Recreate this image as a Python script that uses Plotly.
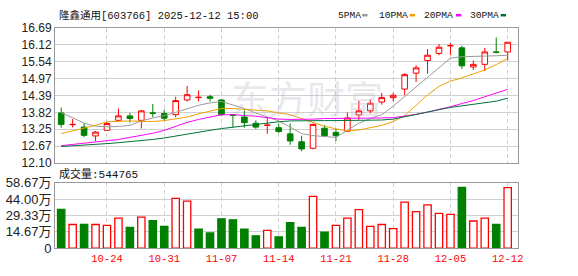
import plotly.graph_objects as go

dates = ['10-20','10-21','10-22','10-23','10-24','10-27','10-28','10-29','10-30','10-31',
         '11-03','11-04','11-05','11-06','11-07','11-10','11-11','11-12','11-13','11-14',
         '11-17','11-18','11-19','11-20','11-21','11-24','11-25','11-26','11-27','11-28',
         '12-01','12-02','12-03','12-04','12-05','12-08','12-09','12-10','12-11','12-12']

open_ = [13.80,13.40,13.32,13.02,13.21,13.55,13.70,13.55,13.80,13.78,
         13.74,14.24,14.32,14.35,14.24,13.74,13.66,13.45,13.38,13.30,
         13.09,12.82,12.60,13.28,13.14,13.18,13.73,13.87,14.17,14.32,
         14.61,15.15,15.58,15.82,16.08,16.01,15.36,15.45,15.87,15.87]
high = [13.98,13.60,13.46,13.19,13.49,13.95,13.80,13.90,14.10,13.91,
        14.35,14.72,14.56,14.42,14.26,13.745,13.89,13.55,13.63,13.44,
        13.44,13.03,13.44,13.38,13.26,13.81,14.21,14.26,14.48,14.48,
        15.15,15.42,15.97,16.14,16.17,16.08,15.58,16.01,16.36,16.20]
low = [13.30,13.31,12.98,12.84,13.21,13.50,13.47,13.27,13.65,13.54,
       13.65,14.19,14.19,14.19,13.70,13.30,13.30,13.26,13.09,13.12,
       12.72,12.50,12.56,13.01,12.85,13.16,13.57,13.79,14.08,14.19,
       14.40,14.85,15.13,15.76,15.76,15.29,15.26,15.22,15.82,15.58]
close = [13.41,13.41,13.04,13.15,13.44,13.70,13.61,13.87,13.79,13.62,
         14.22,14.42,14.33,14.30,13.74,13.72,13.47,13.32,13.385,13.17,
         12.85,12.58,13.41,13.03,13.03,13.63,13.87,14.13,14.32,14.40,
         15.10,15.33,15.76,16.03,16.085,15.40,15.45,15.87,15.86,16.20]

ma5 = [13.80,13.64,13.45,13.35,13.33,13.34,13.38,13.53,13.63,13.71,
       13.82,13.95,14.06,14.14,14.19,14.07,13.95,13.80,13.66,13.53,
       13.32,13.10,13.03,13.00,12.97,13.22,13.45,13.61,13.74,14.03,
       14.35,14.68,15.00,15.34,15.66,15.71,15.73,15.73,15.74,15.76]
ma10 = [13.10,13.19,13.29,13.38,13.50,13.51,13.53,13.51,13.51,13.54,
        13.59,13.66,13.77,13.87,13.95,13.95,13.93,13.91,13.87,13.80,
        13.74,13.61,13.48,13.35,13.26,13.19,13.22,13.29,13.38,13.51,
        13.71,14.06,14.41,14.70,14.88,14.99,15.12,15.26,15.44,15.65]
ma20 = [12.69,12.73,12.77,12.81,12.85,12.90,12.97,13.03,13.11,13.21,
        13.35,13.48,13.58,13.67,13.74,13.74,13.72,13.69,13.64,13.59,
        13.58,13.58,13.59,13.61,13.61,13.61,13.61,13.61,13.63,13.64,
        13.69,13.75,13.83,13.91,14.01,14.12,14.22,14.35,14.48,14.60]
ma30 = [12.66,12.68,12.70,12.73,12.76,12.79,12.82,12.86,12.90,12.95,
        13.02,13.08,13.14,13.21,13.27,13.32,13.37,13.42,13.46,13.50,
        13.53,13.54,13.54,13.54,13.54,13.54,13.54,13.55,13.56,13.59,
        13.67,13.74,13.82,13.90,13.99,14.04,14.09,14.14,14.20,14.30]

volume = [348600,212600,214000,212600,204000,269000,187000,278000,246600,195600,
          448000,422600,170000,136000,263600,255000,170000,110500,159000,102000,
          229600,187000,465000,144500,204000,269000,346000,195600,212600,176000,
          414000,329000,388500,312000,303500,546000,244000,269000,212600,544765]
vol_up = [0,1,0,1,1,1,0,1,0,0,
          1,1,0,0,0,0,0,0,1,0,
          0,0,1,0,1,1,1,1,1,1,
          1,1,1,1,1,0,1,1,0,1]

price_ticks = [12.10,12.67,13.25,13.82,14.39,14.97,15.54,16.12,16.69]
vol_ticks = [0,146700,293300,440000,586700]
vol_tick_text = ['0','14.67万','29.33万','44.00万','58.67万']
date_ticks = ['10-24','10-31','11-07','11-14','11-21','11-28','12-05','12-12']

title_text = '隆鑫通用[603766] 2025-12-12 15:00'
vol_title = '成交量:544765'
ma_names = ['5PMA','10PMA','20PMA','30PMA']
ma_colors = ['#9a9a9a','#f0a000','#ff00ff','#00733a']

RED = '#ff0000'
GREEN = '#008000'
W, H = 578, 276

def px(x):
    return x / W

def py(y):
    return 1 - y / H

fig = go.Figure()
fig.add_trace(go.Candlestick(
    x=dates, open=open_, high=high, low=low, close=close,
    increasing=dict(line=dict(color=RED, width=1), fillcolor='white'),
    decreasing=dict(line=dict(color=GREEN, width=1), fillcolor=GREEN),
    whiskerwidth=0, xaxis='x', yaxis='y', showlegend=False, hoverinfo='skip'))

for vals, col in zip([ma5, ma10, ma20, ma30], ma_colors):
    fig.add_trace(go.Scatter(x=dates, y=vals, mode='lines', line=dict(color=col, width=1),
                             xaxis='x', yaxis='y', showlegend=False, hoverinfo='skip'))

fig.add_trace(go.Bar(
    x=dates, y=volume, width=0.64,
    marker=dict(color=['white' if u else GREEN for u in vol_up],
                line=dict(color=[RED if u else GREEN for u in vol_up], width=1.3)),
    xaxis='x2', yaxis='y2', showlegend=False, hoverinfo='skip'))

xr = [-0.54, 39.9]
common_x = dict(type='category', range=xr, showgrid=True, gridcolor='#cfcfcf', griddash='4px,3px',
                gridwidth=1, tickvals=date_ticks, showline=True, linecolor='#999999', linewidth=1,
                mirror=True, zeroline=False, ticks='', fixedrange=True)
fig.update_layout(
    width=W, height=H, margin=dict(l=0, r=0, t=0, b=0),
    paper_bgcolor='white', plot_bgcolor='white',
    xaxis=dict(domain=[px(55.5), px(522.5)], anchor='y', showticklabels=False,
               rangeslider=dict(visible=False), **common_x),
    yaxis=dict(domain=[py(165), py(22)], range=[12.10, 16.69], tickvals=price_ticks,
               ticktext=['%.2f' % v for v in price_ticks], showgrid=True, gridcolor='#d0d0d0',
               gridwidth=1, showline=True, linecolor='#999999', mirror=True, zeroline=False,
               ticks='', tickfont=dict(family='Liberation Sans', size=12, color='#222222')),
    xaxis2=dict(domain=[px(55.5), px(522.5)], anchor='y2', ticktext=date_ticks,
                tickfont=dict(family='Liberation Mono', size=10.5, color='#ff0000'), **common_x),
    yaxis2=dict(domain=[py(255), py(186)], range=[0, 586700], tickvals=vol_ticks,
                ticktext=vol_tick_text, showgrid=True, gridcolor='#d0d0d0', gridwidth=1,
                showline=True, linecolor='#999999', mirror=True, zeroline=False, ticks='',
                tickfont=dict(family='Liberation Sans, Noto Sans CJK SC', size=13, color='#222222')),
    bargap=0.3,
)

ann = []
ann.append(dict(text='东方财富', x=px(310), y=py(95), xref='paper', yref='paper',
                showarrow=False, font=dict(family='Noto Sans CJK SC', size=38, color='rgba(190,190,200,0.35)'),
                xanchor='center', yanchor='middle'))
ann.append(dict(text=title_text, x=px(57), y=py(8.5), xref='paper', yref='paper', showarrow=False,
                xanchor='left', yanchor='middle',
                font=dict(family='Liberation Mono, Noto Sans CJK SC', size=10.5, color='#111111')))
ann.append(dict(text=vol_title, x=px(57), y=py(177), xref='paper', yref='paper', showarrow=False,
                xanchor='left', yanchor='middle',
                font=dict(family='Liberation Mono, Noto Sans CJK SC', size=11, color='#111111')))

legend_x = [339, 380, 425.7, 471.7]
marker_x = [365.3, 413.3, 460, 505]
shapes = []
for name, col, lx, mx in zip(ma_names, ma_colors, legend_x, marker_x):
    ann.append(dict(text=name, x=px(lx), y=py(8.5), xref='paper', yref='paper', showarrow=False,
                    xanchor='left', yanchor='middle',
                    font=dict(family='Liberation Mono', size=9.6, color='#111111')))
    shapes.append(dict(type='rect', xref='paper', yref='paper', x0=px(mx), x1=px(mx + 5.4),
                       y0=py(10), y1=py(7.3), fillcolor=col, line=dict(width=0)))

fig.update_layout(annotations=ann, shapes=shapes)
fig.write_html('out.html')
